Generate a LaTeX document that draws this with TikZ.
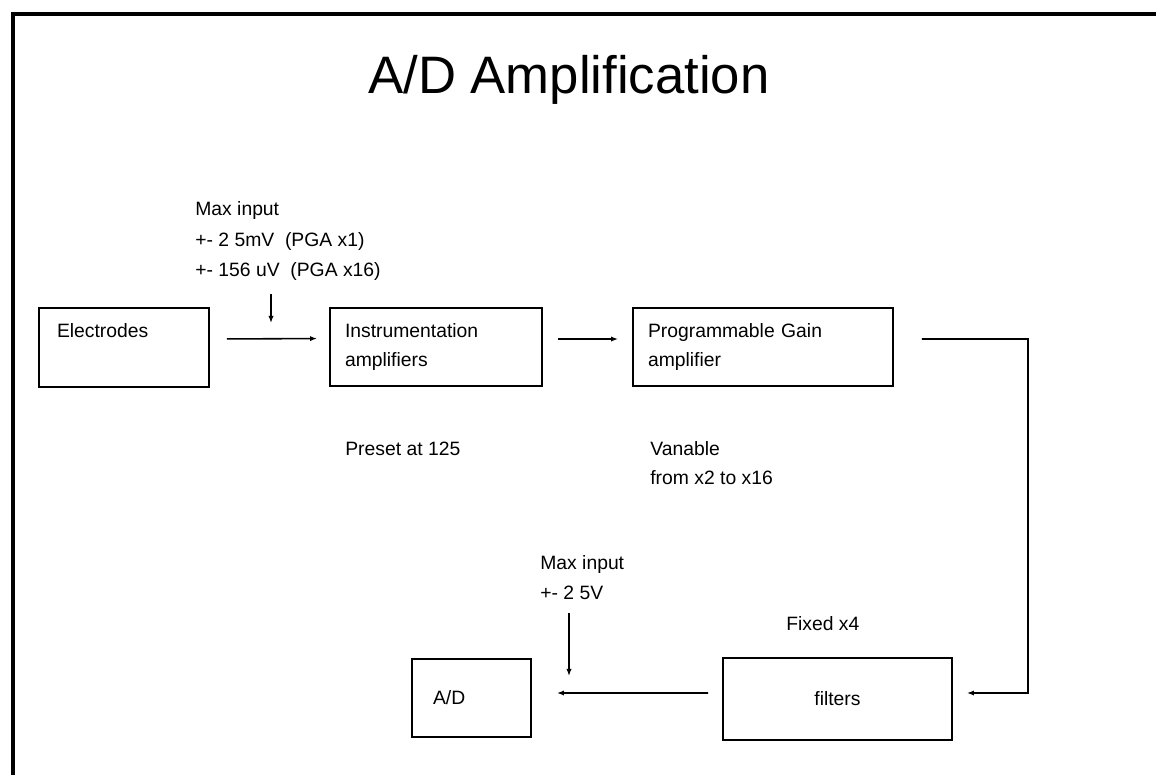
\documentclass[tikz,border=0pt]{standalone}
\usepackage{fontspec}
\setmainfont{Liberation Sans}
\usetikzlibrary{arrows.meta}
\newcommand{\lblfont}{\fontsize{11pt}{17pt}\selectfont}

\begin{document}
\begin{tikzpicture}[x=0.02cm, y=-0.02cm,
    blk/.style={draw, line width=1.1pt, inner xsep=0.3cm, align=left, font=\lblfont},
    lbl/.style={anchor=base west, inner sep=0pt, font=\lblfont},
    arr/.style={-{Latex[length=4pt,width=3pt]}, line width=0.9pt}
]
    \useasboundingbox (0,0) rectangle (1156,775);
    \draw[line width=0.08cm] (13,775) -- (13,14) -- (1156,14);

    \node[anchor=base, inner sep=0pt, font=\fontsize{30pt}{36pt}\selectfont] (title) at (569,93) {A/D Amplification};

    \node[blk, inner xsep=0.36cm, text width=2.68cm, minimum height=1.58cm] (elec) at (124,347.5)
        {Electrodes\\\vphantom{amplifiers}};
    \node[blk, text width=3.64cm, minimum height=1.56cm] (instr) at (436,347)
        {Instrumentation\\amplifiers};
    \node[blk, text width=4.6cm, minimum height=1.56cm] (pga) at (763,347)
        {Programmable Gain\\amplifier};
    \node[blk, align=center, text width=3.98cm, minimum height=1.64cm] (filt) at (837.5,699)
        {filters};
    \node[blk, inner xsep=0.42cm, text width=1.54cm, minimum height=1.56cm] (ad) at (471.5,698)
        {A/D};

    \node[lbl] (maxA) at (195,215) {Max input};
    \node[lbl] (rngA) at (195,246) {+- 2 5mV\ \ (PGA x1)};
    \node[lbl] (rngB) at (195,276) {+- 156 uV\ \ (PGA x16)};
    \node[lbl] (preset) at (345,455) {Preset at 125};
    \node[lbl] (varA) at (650,455) {Vanable};
    \node[lbl] (varB) at (650,484) {from x2 to x16};
    \node[lbl] (maxB) at (540,569) {Max input};
    \node[lbl] (rngC) at (540,599) {+- 2 5V};
    \node[lbl] (fixed) at (786,630) {Fixed x4};

    \coordinate (tickA) at (271,294);
    \coordinate (tickAend) at (271,323);
    \coordinate (tickB) at (569,613);
    \coordinate (tickBend) at (569,676);
    \coordinate (bend) at (1028,339);

    \draw[arr, shorten <=0.34cm, shorten >=0.24cm] ([yshift=0.17cm]elec.east) -- ([yshift=0.17cm]instr.west);
    \draw[arr, shorten <=0.3cm, shorten >=0.28cm] ([yshift=0.16cm]instr.east) -- ([yshift=0.16cm]pga.west);
    \draw[arr, shorten <=0.56cm, shorten >=0.28cm] ([yshift=0.16cm]pga.east) -- (bend) |- ([yshift=0.12cm]filt.east);
    \draw[arr, shorten <=0.28cm, shorten >=0.5cm] ([yshift=0.12cm]filt.west) -- ([yshift=0.1cm]ad.east);
    \draw[arr] (tickA) -- (tickAend);
    \draw[arr] (tickB) -- (tickBend);
\end{tikzpicture}
\end{document}
